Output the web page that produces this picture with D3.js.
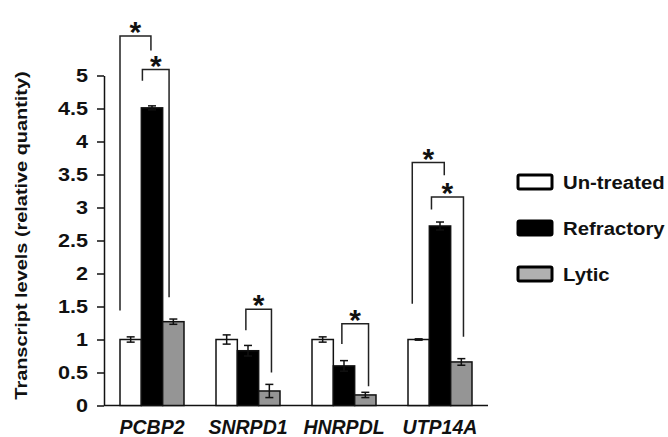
<!DOCTYPE html>
<html><head><meta charset="utf-8">
<script src="https://cdn.jsdelivr.net/npm/d3@7"></script>
<style>body{margin:0;background:#fff}svg{display:block}text{font-family:"Liberation Sans",Arial,sans-serif;font-weight:bold;fill:#111}</style>
</head><body>
<script>
// ---- data ----
const genes = ["PCBP2", "SNRPD1", "HNRPDL", "UTP14A"];
const series = ["Un-treated", "Refractory", "Lytic"];
const untreated = [1.00, 1.00, 1.00, 1.00];
const refractory = [4.51, 0.83, 0.60, 2.72];
const lytic = [1.27, 0.22, 0.16, 0.66];
const untreatedErr = [0.04, 0.07, 0.04, 0.01];
const refractoryErr = [0.03, 0.08, 0.08, 0.06];
const lyticErr = [0.04, 0.10, 0.04, 0.05];
const yTicks = [0, 0.5, 1, 1.5, 2, 2.5, 3, 3.5, 4, 4.5, 5];
// significance brackets: gene, left slot, right slot (series index units), top, left end, right end (values)
const brackets = [
  ["PCBP2", 0.0, 1.45, 5.60, 1.44, 5.38],
  ["PCBP2", 1.05, 2.30, 5.09, 4.92, 1.64],
  ["SNRPD1", 1.40, 2.60, 1.46, 1.14, 0.50],
  ["HNRPDL", 1.40, 2.65, 1.24, 0.93, 0.29],
  ["UTP14A", 0.20, 1.70, 3.68, 1.54, 3.49],
  ["UTP14A", 1.10, 2.60, 3.16, 2.97, 1.04]
];

const values = [untreated, refractory, lytic];
const errs = [untreatedErr, refractoryErr, lyticErr];
const fills = ["#ffffff", "#000000", "#959595"];
const legendFills = ["#ffffff", "#000000", "#b0b0b0"];

const W = 668, H = 437;
const svg = d3.select("body").append("svg").attr("width", W).attr("height", H);

const x = d3.scaleBand().domain(genes).range([104, 488]).paddingInner(1/3).paddingOuter(1/6);
const xs = d3.scaleBand().domain(d3.range(series.length)).range([0, x.bandwidth()]);
const slot = d3.scaleLinear().domain([0, series.length]).range([0, x.bandwidth()]);
const y = d3.scaleLinear().domain([0, 5]).range([405.5, 75.5]);

function stext(sel, px, py, str, size, sx, anchor, rot, italic) {
  const g = sel.append("g").attr("transform", `translate(${px},${py})` + (rot ? ` rotate(${rot})` : "") + ` scale(${sx},1)`);
  const t = g.append("text").attr("text-anchor", anchor).style("font-size", size + "px").text(str);
  if (italic) t.style("font-style", "italic");
  return t;
}

// y axis
const yAxis = svg.append("g").attr("transform", "translate(104,0)")
  .call(d3.axisLeft(y).tickValues(yTicks).tickSize(7).tickSizeOuter(0).tickFormat(() => ""));
yAxis.selectAll("path, line").attr("stroke", "#111").attr("stroke-width", 1.5);
yTicks.forEach(v => stext(svg, 88, y(v) + 6.5, String(v), 18, 1.2, "end"));

// x axis line
const xAxis = svg.append("g").attr("transform", "translate(0,405.5)")
  .call(d3.axisBottom(x).tickSize(0).tickSizeOuter(0).tickFormat(() => ""));
xAxis.select("path").attr("stroke", "#111").attr("stroke-width", 1.5).attr("d", "M104,0H488");

// bars
genes.forEach((gname, gi) => {
  series.forEach((s, si) => {
    const x0 = x(gname) + xs(si);
    const v = values[si][gi];
    svg.append("rect").attr("x", x0).attr("y", y(v)).attr("width", xs.bandwidth()).attr("height", y(0) - y(v))
      .attr("fill", fills[si]).attr("stroke", "#111").attr("stroke-width", 1.5);
    const cx = x0 + xs.bandwidth() / 2, e = errs[si][gi];
    const eb = svg.append("g").attr("stroke", "#111").attr("stroke-width", 1.5);
    eb.append("line").attr("x1", cx).attr("x2", cx).attr("y1", y(v + e)).attr("y2", y(v - e));
    eb.append("line").attr("x1", cx - 4).attr("x2", cx + 4).attr("y1", y(v + e)).attr("y2", y(v + e));
    eb.append("line").attr("x1", cx - 4).attr("x2", cx + 4).attr("y1", y(v - e)).attr("y2", y(v - e));
  });
  stext(svg, x(gname) + x.bandwidth() / 2, 434, gname, 19.5, 1, "middle", 0, true);
});

// brackets
brackets.forEach(([gname, l, r, top, le, re]) => {
  const xl = x(gname) + slot(l), xr = x(gname) + slot(r);
  svg.append("path").attr("fill", "none").attr("stroke", "#222").attr("stroke-width", 1.5)
    .attr("d", `M${xl},${y(le)}V${y(top)}H${xr}V${y(re)}`);
  stext(svg, (xl + xr) / 2, y(top) - 11 + 17, "*", 30, 1, "middle");
});

// legend
series.forEach((s, si) => {
  const cy = 182 + si * 46;
  svg.append("rect").attr("x", 518).attr("y", cy - 7).attr("width", 34).attr("height", 14)
    .attr("fill", legendFills[si]).attr("stroke", "#000").attr("stroke-width", 3).attr("rx", 1.5);
  stext(svg, 563, cy + 6.5, s, 18, 1.13, "start");
});

// y title
stext(svg, 27, 235.5, "Transcript levels (relative quantity)", 17, 1.17, "middle", -90);
</script>
</body></html>
